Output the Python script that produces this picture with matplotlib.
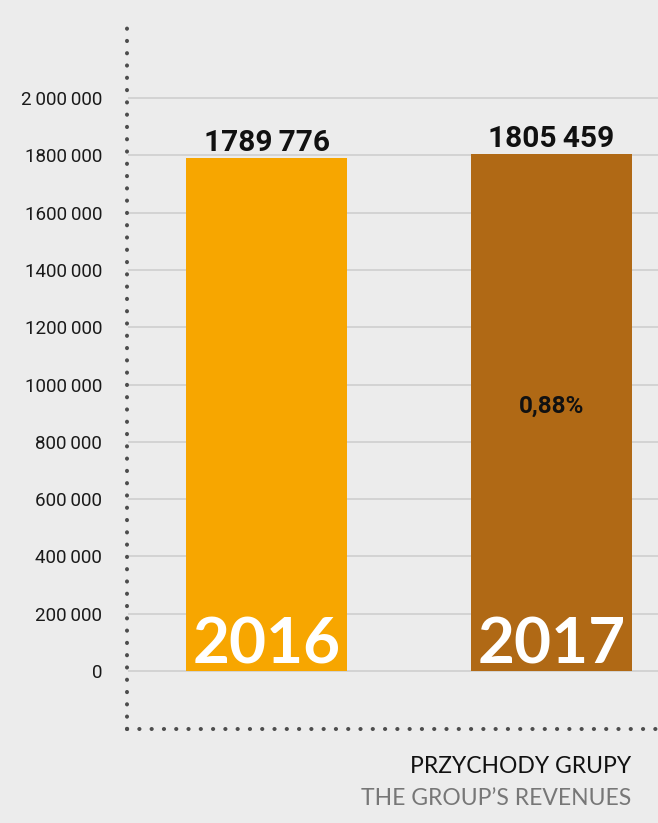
import matplotlib
matplotlib.use("Agg")
import matplotlib.pyplot as plt
from matplotlib.lines import Line2D

years = ["2016", "2017"]
values = [1789776, 1805459]
value_labels = ["1789\u2009776", "1805\u2009459"]
colors = ["#F7A600", "#B06915"]
change_label = "0,88%"
yticks = [0, 200000, 400000, 600000, 800000, 1000000, 1200000, 1400000, 1600000, 1800000, 2000000]
ytick_labels = ["0", "200\u2009000", "400\u2009000", "600\u2009000", "800\u2009000", "1000\u2009000",
                "1200\u2009000", "1400\u2009000", "1600\u2009000", "1800\u2009000", "2\u2009000\u2009000"]
title_pl = "PRZYCHODY GRUPY"
title_en = "THE GROUP\u2019S REVENUES"

W, H = 658, 823
DPI = 100
BG = "#ECECEC"
fig = plt.figure(figsize=(W / DPI, H / DPI), dpi=DPI, facecolor=BG)

# axes in pixel coordinates
ax_left, ax_right = 128, 658
ax_top, ax_bottom = 15, 729
ax = fig.add_axes([ax_left / W, (H - ax_bottom) / H, (ax_right - ax_left) / W, (ax_bottom - ax_top) / H])
ax.set_facecolor(BG)

# y-scale: 0 at px 671, 2,000,000 at px 98
y0_px, y2m_px = 671, 98
per_px = 2000000 / (y0_px - y2m_px)
ax.set_ylim(-(ax_bottom - y0_px) * per_px, (y0_px - ax_top) * per_px)

# x-scale: centers at 266.5 and 551.5 px
c0, c1 = 266.5, 551.5
unit = c1 - c0
ax.set_xlim((ax_left - c0) / unit, (ax_right - c0) / unit)
bar_w = 161 / unit

for s in ax.spines.values():
    s.set_visible(False)

ax.set_yticks(yticks)
ax.set_yticklabels(ytick_labels)
ax.tick_params(axis="y", length=0, pad=18.5, labelsize=13.5, labelcolor="#1a1a1a")
for lbl in ax.get_yticklabels():
    lbl.set_fontfamily(["Roboto", "DejaVu Sans"])
    lbl.set_fontweight("normal")
ax.set_xticks([])
ax.yaxis.grid(True, color="#CFCFCF", linewidth=1.2)
ax.set_axisbelow(True)

xs = list(range(len(years)))
bars = ax.bar(xs, values, width=bar_w, color=colors, zorder=2)

for x, v, lab in zip(xs, values, value_labels):
    ax.text(x, v + 1 * per_px, lab, ha="center", va="bottom", fontsize=21.5, fontweight="bold",
            family=["Roboto", "DejaVu Sans"], color="#111111", zorder=3)

for x, yr in zip(xs, years):
    ax.text(x, 8 * per_px, yr, ha="center", va="baseline", fontsize=46, fontweight="bold",
            family=["Lato", "DejaVu Sans"], color="white", zorder=3)

ax.text(1, (y0_px - 413) * per_px, change_label, ha="center", va="baseline", fontsize=17.5,
        fontweight="bold", family=["Roboto", "DejaVu Sans"], color="#111111", zorder=3)

# dotted axes
dot_kw = dict(color="#4d4d4d", linewidth=2.9, linestyle=(0, (0.05, 3.0)), dash_capstyle="round",
              transform=fig.transFigure, clip_on=False)
fig.add_artist(Line2D([127 / W, 127 / W], [(H - 729) / H, (H - 17) / H], **dot_kw))
fig.add_artist(Line2D([127 / W, 660 / W], [(H - 729) / H, (H - 729) / H], **dot_kw))

fig.text(631 / W, (H - 773) / H, title_pl, ha="right", va="baseline", fontsize=16.5,
         family=["Lato", "DejaVu Sans"], color="#111111")
fig.text(631 / W, (H - 805) / H, title_en, ha="right", va="baseline", fontsize=16.5,
         family=["Lato", "DejaVu Sans"], color="#777777")

fig.savefig("out.png", dpi=DPI, facecolor=BG)
